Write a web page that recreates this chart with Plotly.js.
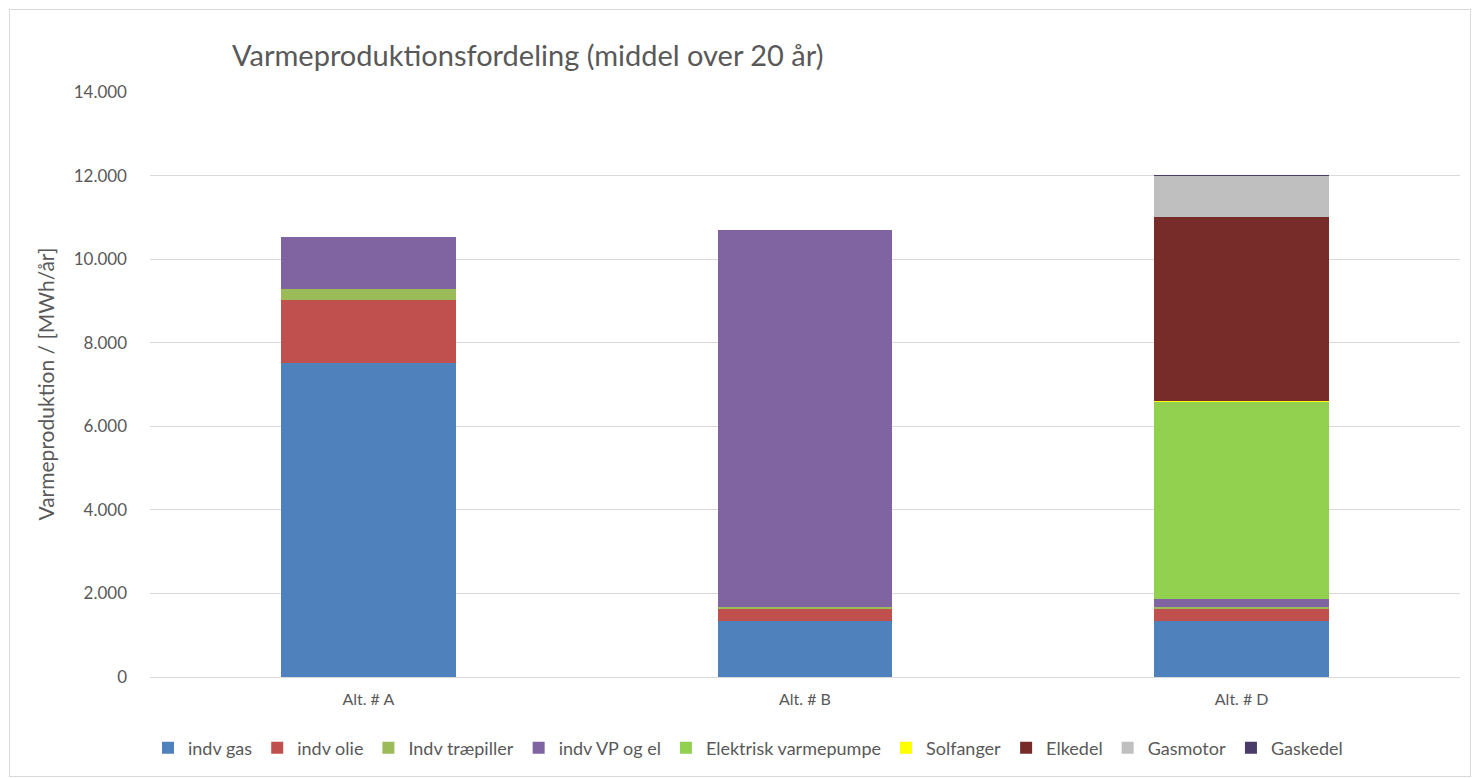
<!DOCTYPE html>
<html><head><meta charset="utf-8">
<script src="https://cdn.plot.ly/plotly-3.0.1.min.js"></script>
<style>
html,body{margin:0;padding:0;background:#fff;}
#frame{position:absolute;left:9px;top:9px;width:1462px;height:768px;border:1px solid #d9d9d9;box-sizing:border-box;pointer-events:none;z-index:5;}
#chart{position:absolute;left:0;top:0;width:1472px;height:778px;}
</style></head>
<body>
<div id="chart"></div><div id="frame"></div>
<script>
const categories = ["Alt. # A", "Alt. # B", "Alt. # D"];
const seriesNames = ["indv gas","indv olie","Indv træpiller","indv VP og el","Elektrisk varmepumpe","Solfanger","Elkedel","Gasmotor","Gaskedel"];
const indvGas = [7510, 1345, 1340];
const indvOlie = [1510, 290, 295];
const indvTraepiller = [260, 40, 40];
const indvVP = [1250, 9020, 190];
const elektriskVP = [0, 0, 4710];
const solfanger = [0, 0, 20];
const elkedel = [0, 0, 4410];
const gasmotor = [0, 0, 990];
const gaskedel = [0, 0, 25];
const yTitle = 'Varmeproduktion / [MWh/år]';
const chartTitle = 'Varmeproduktionsfordeling (middel over 20 år)';
const colors = ["#4f81bd","#c0504d","#9bbb59","#8064a2","#92d050","#ffff00","#772c2a","#bfbfbf","#4a3b6b"];
const values = [indvGas, indvOlie, indvTraepiller, indvVP, elektriskVP, solfanger, elkedel, gasmotor, gaskedel];
const traces = values.map((v,i)=>({
  type:'bar', name:seriesNames[i], x:categories, y:v,
  marker:{color:colors[i], line:{width:0}},
  hoverinfo:'x+y+name'
}));
const FONT = 'Lato, "Open Sans", sans-serif';
const layout = {
  width:1472, height:778,
  barmode:'stack', bargap:0.6,
  separators:',.',
  paper_bgcolor:'#ffffff', plot_bgcolor:'#ffffff',
  margin:{l:150, r:12, t:92, b:101, autoexpand:false},
  font:{family:FONT, color:'#595959', size:16},
  title:{text:chartTitle, x:232/1472, xanchor:'left', xref:'container', y:1-56/778, yanchor:'middle', yref:'container',
         font:{size:29, color:'#595959', family:FONT}},
  xaxis:{showgrid:false, showline:true, linecolor:'#d9d9d9', linewidth:1, ticks:'', tickfont:{size:16,color:'#595959'}, ticklabelstandoff:8},
  yaxis:{range:[0,14000], dtick:2000, tickformat:',d', showgrid:true, gridcolor:'#d9d9d9', gridwidth:1, zeroline:false, showline:false,
         tickfont:{size:17,color:'#595959'}, ticklabelstandoff:22},
  annotations:[{text:yTitle, xref:'paper', yref:'paper', x:(45-150)/1310, y:0.5, xanchor:'center', yanchor:'middle',
                textangle:-90, showarrow:false, font:{size:21, color:'#595959', family:FONT}}],
  legend:{orientation:'h', x:(748-150)/1310, xanchor:'center', y:-(748-677)/585, yanchor:'middle', traceorder:'normal',
          font:{size:18,color:'#595959'}, itemsizing:'constant'},
  showlegend:true
};
Plotly.newPlot('chart', traces, layout, {displayModeBar:false, staticPlot:true});
</script>
</body></html>
